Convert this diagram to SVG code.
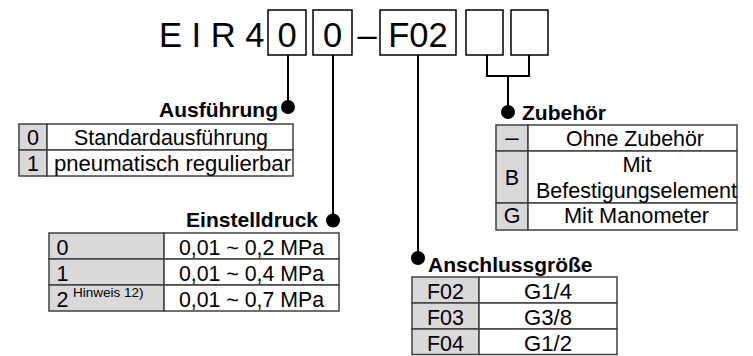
<svg xmlns="http://www.w3.org/2000/svg" width="753" height="356" viewBox="0 0 753 356">
<style>
.title{font-family:"Liberation Sans",Arial,sans-serif;font-size:34.5px;fill:#000}
.lbl{font-family:"Liberation Sans",Arial,sans-serif;font-size:21px;font-weight:bold;fill:#000}
.t{font-family:"Liberation Sans",Arial,sans-serif;font-size:21.5px;fill:#000}
.sup{font-family:"Liberation Sans",Arial,sans-serif;font-size:13.5px;fill:#000}
.c{text-anchor:middle}
.box{fill:#fff;stroke:#000;stroke-width:1.5}
.g{fill:#d9d9d9;stroke:#404040;stroke-width:1.5}
.w{fill:#fff;stroke:#404040;stroke-width:1.5}
.ln{fill:none;stroke:#000;stroke-width:2}
.dot{fill:#000}
</style>
<g id="code">
<text class="title" x="159" y="47">E I R 4</text>
<rect class="box" x="268" y="10" width="38" height="45"/>
<text class="title c" x="287" y="47">0</text>
<rect class="box" x="313" y="10" width="39" height="45"/>
<text class="title c" x="332.5" y="47">0</text>
<text class="title c" x="367" y="47">–</text>
<rect class="box" x="380" y="10" width="76" height="45"/>
<text class="title c" x="418" y="47">F02</text>
<rect class="box" x="466" y="10" width="37" height="45"/>
<rect class="box" x="511" y="10" width="37" height="45"/>
</g>
<g id="connectors">
<line class="ln" x1="288" y1="55" x2="288" y2="107"/>
<circle class="dot" cx="288" cy="107" r="7"/>
<line class="ln" x1="333" y1="55" x2="333" y2="220.5"/>
<circle class="dot" cx="333" cy="220.5" r="7"/>
<line class="ln" x1="418" y1="55" x2="418" y2="258"/>
<circle class="dot" cx="418" cy="258" r="7"/>
<polyline class="ln" points="487,55 487,76 529,76 529,55"/>
<line class="ln" x1="508" y1="76" x2="508" y2="112"/>
<circle class="dot" cx="508" cy="112" r="7"/>
</g>
<g id="ausfuehrung">
<text class="lbl" x="278" y="117" text-anchor="end">Ausführung</text>
<rect class="g" x="19" y="124" width="28" height="26"/>
<rect class="w" x="47" y="124" width="246" height="26"/>
<rect class="g" x="19" y="150" width="28" height="26"/>
<rect class="w" x="47" y="150" width="246" height="26"/>
<text class="t c" x="33" y="144.5">0</text>
<text class="t c" x="171" y="144.5" textLength="194" lengthAdjust="spacingAndGlyphs">Standardausführung</text>
<text class="t c" x="33" y="170.5">1</text>
<text class="t c" x="172.5" y="170.5" textLength="237" lengthAdjust="spacingAndGlyphs">pneumatisch regulierbar</text>
</g>
<g id="einstelldruck">
<text class="lbl" x="318" y="227" text-anchor="end">Einstelldruck</text>
<rect class="g" x="49" y="233" width="115" height="26"/>
<rect class="w" x="164" y="233" width="175" height="26"/>
<rect class="g" x="49" y="259" width="115" height="26"/>
<rect class="w" x="164" y="259" width="175" height="26"/>
<rect class="g" x="49" y="285" width="115" height="26"/>
<rect class="w" x="164" y="285" width="175" height="26"/>
<text class="t" x="56.5" y="254.5">0</text>
<text class="t c" x="251.5" y="254.5" textLength="145" lengthAdjust="spacingAndGlyphs">0,01 ~ 0,2 MPa</text>
<text class="t" x="56.5" y="280.5">1</text>
<text class="t c" x="251.5" y="280.5" textLength="145" lengthAdjust="spacingAndGlyphs">0,01 ~ 0,4 MPa</text>
<text class="t" x="56.5" y="306.5">2</text>
<text class="sup" x="73" y="297">Hinweis 12)</text>
<text class="t c" x="251.5" y="306.5" textLength="145" lengthAdjust="spacingAndGlyphs">0,01 ~ 0,7 MPa</text>
</g>
<g id="zubehoer">
<text class="lbl" x="522" y="119.5">Zubehör</text>
<rect class="g" x="496" y="125" width="32" height="26"/>
<rect class="w" x="528" y="125" width="209" height="26"/>
<rect class="g" x="496" y="151" width="32" height="52"/>
<rect class="w" x="528" y="151" width="209" height="52"/>
<rect class="g" x="496" y="203" width="32" height="27"/>
<rect class="w" x="528" y="203" width="209" height="27"/>
<text class="t c" x="512" y="145" style="font-size:24px">–</text>
<text class="t c" x="635" y="146" textLength="138" lengthAdjust="spacingAndGlyphs">Ohne Zubehör</text>
<text class="t c" x="512" y="185">B</text>
<text class="t c" x="637" y="171.5" textLength="29" lengthAdjust="spacingAndGlyphs">Mit</text>
<text class="t c" x="636.5" y="198" textLength="201" lengthAdjust="spacingAndGlyphs">Befestigungselement</text>
<text class="t c" x="512" y="222.5">G</text>
<text class="t c" x="636.5" y="222.5" textLength="145" lengthAdjust="spacingAndGlyphs">Mit Manometer</text>
</g>
<g id="anschluss">
<text class="lbl" x="428" y="272">Anschlussgröße</text>
<rect class="g" x="412" y="277" width="67" height="26"/>
<rect class="w" x="479" y="277" width="138" height="26"/>
<rect class="g" x="412" y="303" width="67" height="26"/>
<rect class="w" x="479" y="303" width="138" height="26"/>
<rect class="g" x="412" y="329" width="67" height="25.5"/>
<rect class="w" x="479" y="329" width="138" height="25.5"/>
<text class="t c" x="445.5" y="298.5" textLength="37" lengthAdjust="spacingAndGlyphs">F02</text>
<text class="t c" x="548" y="298.5" textLength="48" lengthAdjust="spacingAndGlyphs">G1/4</text>
<text class="t c" x="445.5" y="324.5" textLength="37" lengthAdjust="spacingAndGlyphs">F03</text>
<text class="t c" x="548" y="324.5" textLength="48" lengthAdjust="spacingAndGlyphs">G3/8</text>
<text class="t c" x="445.5" y="350.5" textLength="37" lengthAdjust="spacingAndGlyphs">F04</text>
<text class="t c" x="548" y="350.5" textLength="48" lengthAdjust="spacingAndGlyphs">G1/2</text>
</g>
</svg>
